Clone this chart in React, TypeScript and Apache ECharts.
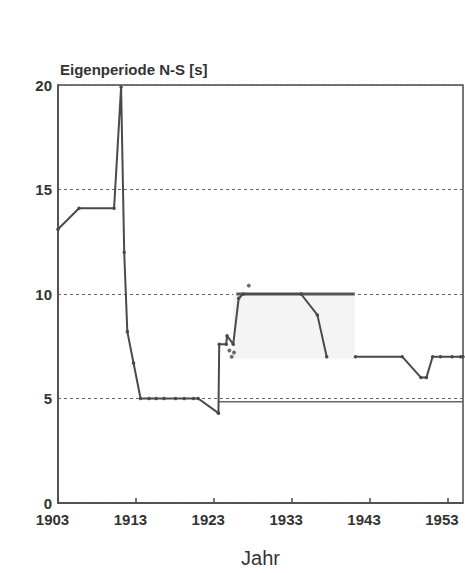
import React, { useEffect, useRef } from "react";
import * as echarts from "echarts";

const mainYears = [1903, 1905.7, 1910.2, 1911.1, 1911.5, 1911.9, 1912.7, 1913.6, 1914.7, 1915.6, 1916.6, 1918.1, 1919.2, 1920.4, 1921.0, 1923.6, 1923.7, 1924.6, 1924.7, 1925.5, 1926.2, 1926.8, 1934.2, 1936.3, 1937.5];
const mainVals = [13.1, 14.1, 14.1, 19.9, 12.0, 8.2, 6.7, 5.0, 5.0, 5.0, 5.0, 5.0, 5.0, 5.0, 5.0, 4.3, 7.6, 7.6, 8.0, 7.6, 9.8, 10.0, 10.0, 9.0, 7.0];

const lateYears = [1941.2, 1947.2, 1949.6, 1950.3, 1951.1, 1952.1, 1953.6, 1954.7, 1955];
const lateVals = [7.0, 7.0, 6.0, 6.0, 7.0, 7.0, 7.0, 7.0, 7.0];

const dotYears = [1925.0, 1925.3, 1925.6, 1927.5];
const dotVals = [7.3, 7.0, 7.2, 10.4];

const plateauYears = [1925.9, 1941.1];
const plateauVals = [10, 10];

const baseYears = [1923.6, 1955];
const baseVals = [4.85, 4.85];

const shadeYears = [1925.5, 1941.1];
const shadeVals = [10, 6.9];

const yTicks = [0, 5, 10, 15, 20];
const xTicks = [1903, 1913, 1923, 1933, 1943, 1953];

const zip = (xs: number[], ys: number[]) => xs.map((x, i) => [x, ys[i]]);

export default function App() {
  const ref = useRef<HTMLDivElement>(null);
  useEffect(() => {
    if (!ref.current) return;
    const chart = echarts.init(ref.current, null, { renderer: "svg" });
    const font = "Liberation Sans, Arial, sans-serif";
    chart.setOption({
      animation: false,
      backgroundColor: "#ffffff",
      grid: {
        left: 58,
        right: 2,
        top: 85,
        bottom: 57,
        show: true,
        borderColor: "#4a4a4a",
        borderWidth: 1.5,
        backgroundColor: "transparent",
      },
      graphic: [
        {
          type: "text",
          left: 60,
          top: 62,
          style: {
            text: "Eigenperiode N-S [s]",
            font: `bold 15px ${font}`,
            fill: "#333",
          },
        },
      ],
      xAxis: {
        type: "value",
        min: 1903,
        max: 1955,
        interval: 10,
        name: "Jahr",
        nameLocation: "middle",
        nameGap: 45,
        nameTextStyle: { fontFamily: font, fontSize: 20, color: "#333" },
        axisLine: { show: true, lineStyle: { color: "#4a4a4a", width: 1.5 } },
        axisTick: { show: true, inside: true, length: 5, lineStyle: { color: "#4a4a4a", width: 1.5 } },
        splitLine: { show: false },
        axisLabel: {
          showMaxLabel: false,
          margin: 9,
          padding: [0, 11, 0, 0],
          fontFamily: font,
          fontWeight: "bold",
          fontSize: 15,
          color: "#333",
          formatter: (v: number) => (xTicks.includes(v) ? String(v) : ""),
        },
      },
      yAxis: {
        type: "value",
        min: 0,
        max: 20,
        interval: 5,
        axisLine: { show: true, lineStyle: { color: "#4a4a4a", width: 1.5 } },
        axisTick: { show: false },
        splitLine: { show: true, lineStyle: { color: "#666", width: 1, type: [3, 3] } },
        axisLabel: {
          margin: 6,
          fontFamily: font,
          fontWeight: "bold",
          fontSize: 15,
          color: "#333",
          formatter: (v: number) => (yTicks.includes(v) ? String(v) : ""),
        },
      },
      series: [
        {
          type: "line",
          data: zip(baseYears, baseVals),
          symbol: "none",
          lineStyle: { color: "#666", width: 1.5 },
          silent: true,
        },
        {
          type: "line",
          data: zip(plateauYears, plateauVals),
          symbol: "none",
          lineStyle: { color: "#555", width: 3 },
          markArea: {
            silent: true,
            itemStyle: { color: "#f4f4f4" },
            data: [[{ coord: [shadeYears[0], shadeVals[0]] }, { coord: [shadeYears[1], shadeVals[1]] }]],
          },
          z: 1,
        },
        {
          type: "line",
          data: zip(mainYears, mainVals),
          symbol: "circle",
          symbolSize: 3.5,
          itemStyle: { color: "#4a4a4a" },
          lineStyle: { color: "#4a4a4a", width: 2 },
          z: 3,
        },
        {
          type: "line",
          data: zip(lateYears, lateVals),
          symbol: "circle",
          symbolSize: 3.5,
          itemStyle: { color: "#4a4a4a" },
          lineStyle: { color: "#4a4a4a", width: 2 },
          z: 3,
        },
        {
          type: "scatter",
          data: zip(dotYears, dotVals),
          symbol: "circle",
          symbolSize: 4,
          itemStyle: { color: "#4a4a4a" },
          z: 4,
        },
      ],
    });
    return () => chart.dispose();
  }, []);
  return <div ref={ref} style={{ width: 465, height: 573, position: "absolute", left: 0, top: 0 }} />;
}
